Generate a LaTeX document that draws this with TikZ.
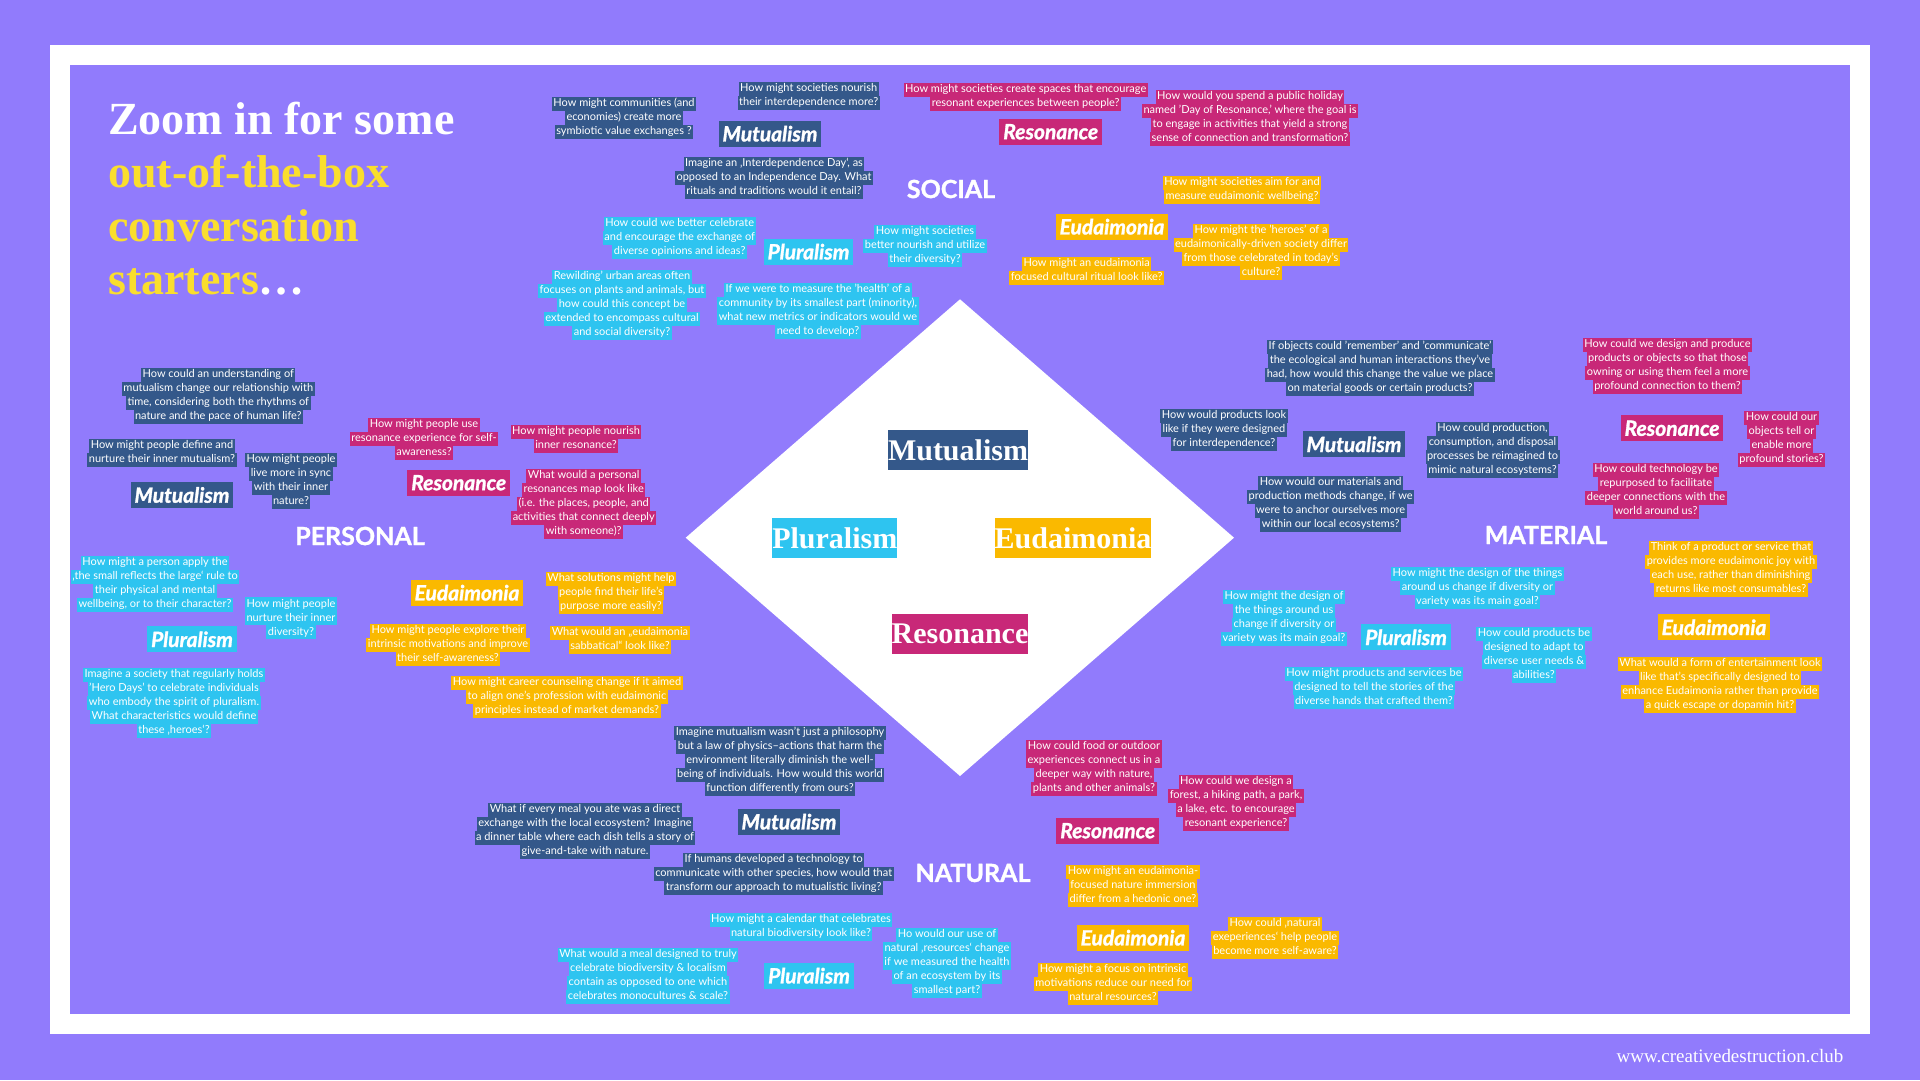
\documentclass[tikz,border=0pt]{standalone}
\usepackage{fontspec}
\setmainfont{Lato}
\newfontfamily\titlefont{Liberation Serif}
\newfontfamily\heavyfont{Lato}[BoldFeatures={FakeBold=1.2}, BoldItalicFeatures={FakeBold=1.4}]
\definecolor{bgpurple}{RGB}{145,123,252}
\definecolor{mut}{RGB}{52,88,138}
\definecolor{plu}{RGB}{46,196,240}
\definecolor{eud}{RGB}{250,185,0}
\definecolor{res}{RGB}{200,40,120}
\definecolor{titleyellow}{RGB}{250,222,45}
\setlength{\fboxsep}{0pt}
% one highlighted line of a question
\newcommand{\ql}[1]{\colorbox{qc}{\strut\hspace{1.5pt}#1\hspace{1.5pt}}}
\tikzset{
  quest/.style={align=center, inner sep=0pt, text=white,
    font=\fontsize{11}{14}\selectfont, execute at begin node=\colorlet{qc}{#1}},
  theme/.style={fill=#1, text=white, inner xsep=4pt, inner ysep=0pt, minimum height=26pt,
    font=\heavyfont\bfseries\itshape\fontsize{21}{21}\selectfont},
  core/.style={fill=#1, text=white, inner xsep=0pt, inner ysep=0pt, minimum height=40pt,
    font=\titlefont\bfseries\fontsize{30}{30}\selectfont},
  area/.style={text=white, inner sep=0pt, font=\heavyfont\bfseries\fontsize{25}{25}\selectfont}
}
\begin{document}
\begin{tikzpicture}[x=1pt,y=-1pt]
\useasboundingbox (0,0) rectangle (1920,1080);

% background and frame
\fill[bgpurple] (0,0) rectangle (1920,1080);
\fill[white] (50,45) rectangle (1870,1034);
\fill[bgpurple] (70,65) rectangle (1850,1014);

% title
\node[anchor=north west, align=left, inner sep=0pt, text=white,
  font=\titlefont\bfseries\fontsize{46}{53.5}\selectfont] (title) at (108,101.5)
  {Zoom in for some\\
   \textcolor{titleyellow}{out-of-the-box}\\
   \textcolor{titleyellow}{conversation}\\
   \textcolor{titleyellow}{starters}\ldots};

% central diamond
\coordinate (dt) at (960,299.3);
\coordinate (dr) at (1234,537.7);
\coordinate (db) at (960,776);
\coordinate (dl) at (685.7,537.7);
\fill[white] (dt)--(dr)--(db)--(dl)--cycle;

\node[core=mut] (cM) at (958,450) {Mutualism};
\node[core=plu] (cP) at (834.8,538) {Pluralism};
\node[core=eud] (cE) at (1073,538) {Eudaimonia};
\node[core=res] (cR) at (960,634) {Resonance};

% SOCIAL
\node[area] (social) at (951,189) {SOCIAL};
\node[theme=mut] (sM) at (770,133.7) {Mutualism};
\node[theme=plu] (sP) at (808.5,251.7) {Pluralism};
\node[theme=res] (sR) at (1050.7,131.7) {Resonance};
\node[theme=eud] (sE) at (1112,226.7) {Eudaimonia};

\node[quest=mut] (s1) at (624,118) {\ql{How might communities (and}\\\ql{economies) create more}\\\ql{symbiotic value exchanges ?}};
\node[quest=mut] (s2) at (808.7,96) {\ql{How might societies nourish}\\\ql{their interdependence more?}};
\node[quest=mut] (s3) at (774,177.5) {\ql{Imagine an ‚Interdependence Day‘, as}\\\ql{opposed to an Independence Day. What}\\\ql{rituals and traditions would it entail?}};
\node[quest=plu] (s4) at (679.7,238) {\ql{How could we better celebrate}\\\ql{and encourage the exchange of}\\\ql{diverse opinions and ideas?}};
\node[quest=plu] (s5) at (925,246) {\ql{How might societies}\\\ql{better nourish and utilize}\\\ql{their diversity?}};
\node[quest=plu] (s6) at (622,304.5) {\ql{Rewilding' urban areas often}\\\ql{focuses on plants and animals, but}\\\ql{how could this concept be}\\\ql{extended to encompass cultural}\\\ql{and social diversity?}};
\node[quest=plu] (s7) at (818,311) {\ql{If we were to measure the 'health' of a}\\\ql{community by its smallest part (minority),}\\\ql{what new metrics or indicators would we}\\\ql{need to develop?}};
\node[quest=res] (s8) at (1025.7,96.7) {\ql{How might societies create spaces that encourage}\\\ql{resonant experiences between people?}};
\node[quest=res] (s9) at (1250,118) {\ql{How would you spend a public holiday}\\\ql{named 'Day of Resonance,' where the goal is}\\\ql{to engage in activities that yield a strong}\\\ql{sense of connection and transformation?}};
\node[quest=eud] (s10) at (1242,189.7) {\ql{How might societies aim for and}\\\ql{measure eudaimonic wellbeing?}};
\node[quest=eud] (s11) at (1261,252) {\ql{How might the 'heroes' of a}\\\ql{eudaimonically-driven society differ}\\\ql{from those celebrated in today's}\\\ql{culture?}};
\node[quest=eud] (s12) at (1086.7,271) {\ql{How might an eudaimonia}\\\ql{focused cultural ritual look like?}};

% PERSONAL
\node[area] (personal) at (360,536) {PERSONAL};
\node[theme=mut] (pM) at (182,495) {Mutualism};
\node[theme=plu] (pP) at (192,639.3) {Pluralism};
\node[theme=res] (pR) at (458.7,482.7) {Resonance};
\node[theme=eud] (pE) at (467,592.7) {Eudaimonia};

\node[quest=mut] (p1) at (218.3,396) {\ql{How could an understanding of}\\\ql{mutualism change our relationship with}\\\ql{time, considering both the rhythms of}\\\ql{nature and the pace of human life?}};
\node[quest=mut] (p2) at (162,452.5) {\ql{How might people define and}\\\ql{nurture their inner mutualism?}};
\node[quest=mut] (p3) at (291,481) {\ql{How might people}\\\ql{live more in sync}\\\ql{with their inner}\\\ql{nature?}};
\node[quest=plu] (p4) at (155,584) {\ql{How might a person apply the}\\\ql{‚the small reflects the large‘ rule to}\\\ql{their physical and mental}\\\ql{wellbeing, or to their character?}};
\node[quest=plu] (p5) at (291,618.3) {\ql{How might people}\\\ql{nurture their inner}\\\ql{diversity?}};
\node[quest=plu] (p6) at (174,703) {\ql{Imagine a society that regularly holds}\\\ql{'Hero Days' to celebrate individuals}\\\ql{who embody the spirit of pluralism.}\\\ql{What characteristics would define}\\\ql{these ‚heroes‘?}};
\node[quest=res] (p7) at (424,439) {\ql{How might people use}\\\ql{resonance experience for self-}\\\ql{awareness?}};
\node[quest=res] (p8) at (576,439) {\ql{How might people nourish}\\\ql{inner resonance?}};
\node[quest=res] (p9) at (583.7,504) {\ql{What would a personal}\\\ql{resonances map look like}\\\ql{(i.e. the places, people, and}\\\ql{activities that connect deeply}\\\ql{with someone)?}};
\node[quest=eud] (p10) at (611,592.5) {\ql{What solutions might help}\\\ql{people find their life’s}\\\ql{purpose more easily?}};
\node[quest=eud] (p11) at (448,645) {\ql{How might people explore their}\\\ql{intrinsic motivations and improve}\\\ql{their self-awareness?}};
\node[quest=eud] (p12) at (620,640) {\ql{What would an „eudaimonia}\\\ql{sabbatical“ look like?}};
\node[quest=eud] (p13) at (567,696.5) {\ql{How might career counseling change if it aimed}\\\ql{to align one's profession with eudaimonic}\\\ql{principles instead of market demands?}};

% MATERIAL
\node[area] (material) at (1546,535) {MATERIAL};
\node[theme=mut] (mM) at (1354,444.3) {Mutualism};
\node[theme=plu] (mP) at (1406,637.3) {Pluralism};
\node[theme=res] (mR) at (1672,428.3) {Resonance};
\node[theme=eud] (mE) at (1714,627.3) {Eudaimonia};

\node[quest=mut] (m1) at (1380,368) {\ql{If objects could 'remember' and 'communicate'}\\\ql{the ecological and human interactions they've}\\\ql{had, how would this change the value we place}\\\ql{on material goods or certain products?}};
\node[quest=mut] (m2) at (1224,430) {\ql{How would products look}\\\ql{like if they were designed}\\\ql{for interdependence?}};
\node[quest=mut] (m3) at (1492.5,450) {\ql{How could production,}\\\ql{consumption, and disposal}\\\ql{processes be reimagined to}\\\ql{mimic natural ecosystems?}};
\node[quest=mut] (m4) at (1330.7,504) {\ql{How would our materials and}\\\ql{production methods change, if we}\\\ql{were to anchor ourselves more}\\\ql{within our local ecosystems?}};
\node[quest=plu] (m5) at (1477.5,588) {\ql{How might the design of the things}\\\ql{around us change if diversity or}\\\ql{variety was its main goal?}};
\node[quest=plu] (m6) at (1284,617.5) {\ql{How might the design of}\\\ql{the things around us}\\\ql{change if diversity or}\\\ql{variety was its main goal?}};
\node[quest=plu] (m7) at (1534,655) {\ql{How could products be}\\\ql{designed to adapt to}\\\ql{diverse user needs \&}\\\ql{abilities?}};
\node[quest=plu] (m8) at (1374,687.5) {\ql{How might products and services be}\\\ql{designed to tell the stories of the}\\\ql{diverse hands that crafted them?}};
\node[quest=res] (m9) at (1667.5,366) {\ql{How could we design and produce}\\\ql{products or objects so that those}\\\ql{owning or using them feel a more}\\\ql{profound connection to them?}};
\node[quest=res] (m10) at (1781.5,439) {\ql{How could our}\\\ql{objects tell or}\\\ql{enable more}\\\ql{profound stories?}};
\node[quest=res] (m11) at (1656,491) {\ql{How could technology be}\\\ql{repurposed to facilitate}\\\ql{deeper connections with the}\\\ql{world around us?}};
\node[quest=eud] (m12) at (1731,569) {\ql{Think of a product or service that}\\\ql{provides more eudaimonic joy with}\\\ql{each use, rather than diminishing}\\\ql{returns like most consumables?}};
\node[quest=eud] (m13) at (1720,685) {\ql{What would a form of entertainment look}\\\ql{like that's specifically designed to}\\\ql{enhance Eudaimonia rather than provide}\\\ql{a quick escape or dopamin hit?}};

% NATURAL
\node[area] (natural) at (973,873) {NATURAL};
\node[theme=mut] (nM) at (789,821.7) {Mutualism};
\node[theme=plu] (nP) at (809,975.7) {Pluralism};
\node[theme=res] (nR) at (1107.7,830.7) {Resonance};
\node[theme=eud] (nE) at (1133,937.7) {Eudaimonia};

\node[quest=mut] (n1) at (780,761) {\ql{Imagine mutualism wasn’t just a philosophy}\\\ql{but a law of physics–actions that harm the}\\\ql{environment literally diminish the well-}\\\ql{being of individuals. How would this world}\\\ql{function differently from ours?}};
\node[quest=mut] (n2) at (585,831) {\ql{What if every meal you ate was a direct}\\\ql{exchange with the local ecosystem? Imagine}\\\ql{a dinner table where each dish tells a story of}\\\ql{give-and-take with nature.}};
\node[quest=mut] (n3) at (773.7,874) {\ql{If humans developed a technology to}\\\ql{communicate with other species, how would that}\\\ql{transform our approach to mutualistic living?}};
\node[quest=plu] (n4) at (801,927) {\ql{How might a calendar that celebrates}\\\ql{natural biodiversity look like?}};
\node[quest=plu] (n5) at (648,976) {\ql{What would a meal designed to truly}\\\ql{celebrate biodiversity \& localism}\\\ql{contain as opposed to one which}\\\ql{celebrates monocultures \& scale?}};
\node[quest=plu] (n6) at (947,962.5) {\ql{Ho would our use of}\\\ql{natural ‚resources‘ change}\\\ql{if we measured the health}\\\ql{of an ecosystem by its}\\\ql{smallest part?}};
\node[quest=res] (n7) at (1094,767.5) {\ql{How could food or outdoor}\\\ql{experiences connect us in a}\\\ql{deeper way with nature,}\\\ql{plants and other animals?}};
\node[quest=res] (n8) at (1236,802.5) {\ql{How could we design a}\\\ql{forest, a hiking path, a park,}\\\ql{a lake, etc. to encourage}\\\ql{resonant experience?}};
\node[quest=eud] (n9) at (1133,886) {\ql{How might an eudaimonia-}\\\ql{focused nature immersion}\\\ql{differ from a hedonic one?}};
\node[quest=eud] (n10) at (1275,937.5) {\ql{How could ‚natural}\\\ql{exeperiences‘ help people}\\\ql{become more self-aware?}};
\node[quest=eud] (n11) at (1113,984) {\ql{How might a focus on intrinsic}\\\ql{motivations reduce our need for}\\\ql{natural resources?}};

% footer
\node[anchor=base, inner sep=0pt, text=white, font=\titlefont\fontsize{19}{19}\selectfont] (url) at (1730,1062) {www.creativedestruction.club};

\end{tikzpicture}
\end{document}
